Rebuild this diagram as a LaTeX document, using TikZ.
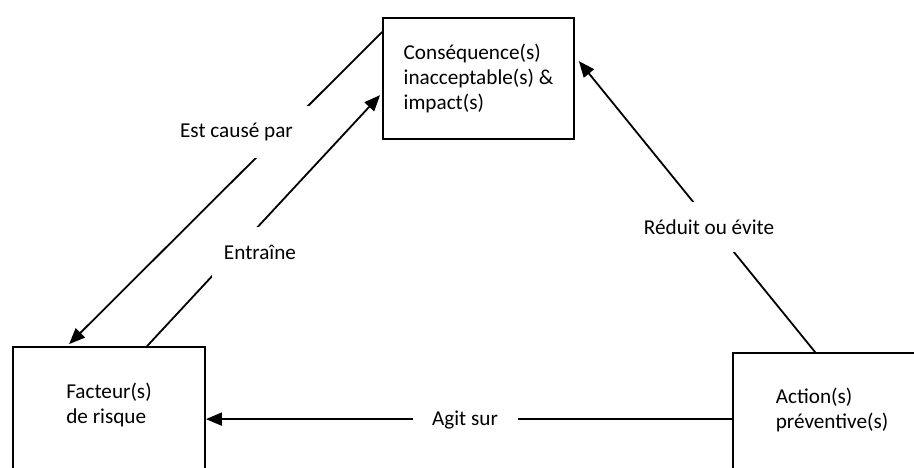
\documentclass[tikz,border=0pt]{standalone}
\usepackage{fontspec}
\setmainfont{Carlito}
\usetikzlibrary{arrows.meta}

\tikzset{
  box/.style={draw, line width=0.9pt, align=left, inner sep=0pt, font=\fontsize{10.6}{12.5}\selectfont},
  arr/.style={line width=0.9pt, -{Triangle[length=8pt,width=6.5pt]}},
  tag/.style={fill=white, inner sep=0pt, minimum height=25pt, font=\fontsize{10.6}{12.5}\selectfont}
}

\begin{document}
\begin{tikzpicture}[x=0.5pt,y=-0.5pt]
\useasboundingbox (0,0) rectangle (914,467);
\clip (0,0) rectangle (914,467);

% les trois cadres
\node[box, minimum width=95.5pt, minimum height=60.5pt] (conseq) at (478.5,78.5) {Conséquence(s)\\inacceptable(s) \&\\impact(s)};
\node[box, minimum width=96pt, minimum height=72pt] (facteur) at (109,419) {Facteur(s)\\de risque\\\strut};
\node[box, minimum width=99pt, minimum height=71pt] (action) at (832,424) {Action(s)\\préventive(s)\\\strut};

% les liens
\draw[arr] ([yshift=-7.5pt]conseq.north west) -- ([xshift=28.5pt,yshift=1pt]facteur.north west);
\draw[arr] ([xshift=67.5pt]facteur.north west) -- ([xshift=-1pt,yshift=-39pt]conseq.north west);
\draw[arr] ([xshift=41.5pt]action.north west) -- ([xshift=2pt,yshift=-22pt]conseq.north east);
\draw[arr] ([yshift=-33.5pt]action.north west) -- ([yshift=-36.5pt]facteur.north east);

% les textes des liens
\node[tag, minimum width=76pt, minimum height=26pt] (estcause) at (236.5,132) {Est causé par};
\node[tag, minimum width=48pt, minimum height=25.5pt] (entraine) at (260,252) {Entraîne};
\node[tag] (reduit) at (709,227) {Réduit ou évite};
\node[tag, minimum width=52.5pt] (agit) at (465,420) {Agit sur};

\end{tikzpicture}
\end{document}
